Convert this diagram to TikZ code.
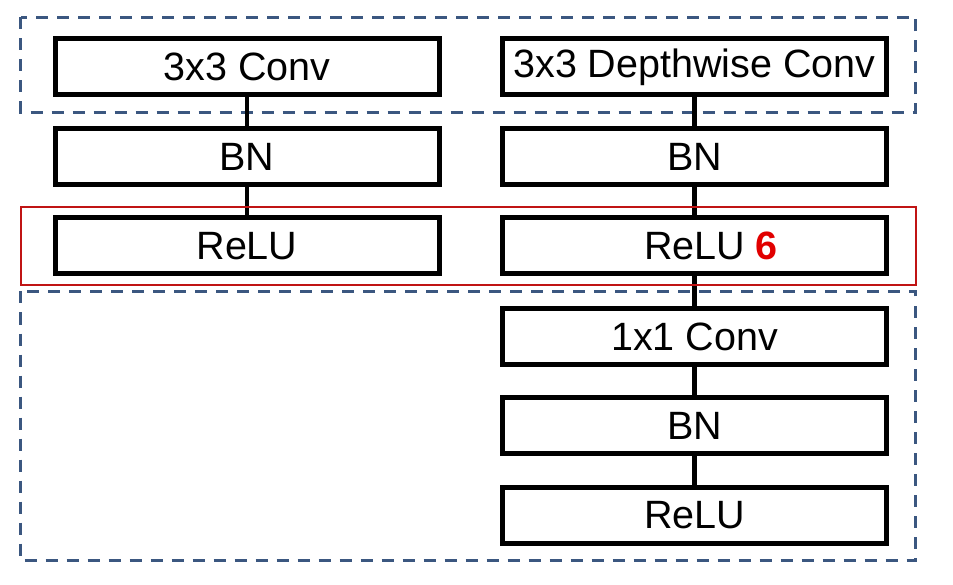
\documentclass[tikz,border=0pt]{standalone}
\usepackage{fontspec}
\setmainfont{Liberation Sans}
\definecolor{dashblue}{RGB}{59,87,128}
\definecolor{boxred}{RGB}{192,20,20}
\definecolor{sixred}{RGB}{225,0,0}
\begin{document}
\begin{tikzpicture}[x=1pt,y=-1pt,
  layer/.style={draw,line width=5pt,minimum width=384pt,minimum height=56pt,inner sep=0pt,font=\fontsize{39.5}{41}\selectfont},
  link/.style={line width=4.5pt},
  group/.style={draw=dashblue,line width=3pt,dash pattern=on 12pt off 9pt}]

\useasboundingbox (0,0) rectangle (953,585);

\node[layer] (conv) at (247,67) {3x3 Conv};
\node[layer] (bn) at (247,157) {BN};
\node[layer] (relu) at (247,246) {ReLU};

\node[layer] (dwconv) at (694.5,67) {3x3 Depthwise Conv};
\node[layer] (dwbn) at (694.5,157) {BN};
\node[layer] (relu6) at (694.5,246) {ReLU\rlap{ \textcolor{sixred}{\textbf{6}}}};
\node[layer] (pwconv) at (694.5,336.5) {1x1 Conv};
\node[layer] (pwbn) at (694.5,425.5) {BN};
\node[layer] (pwrelu) at (694.5,515) {ReLU};

\draw[group] ([xshift=-32pt,yshift=19pt]conv.north west) rectangle ([xshift=26.5pt,yshift=-15pt]dwconv.south east);
\draw[group] ([xshift=-32pt,yshift=-15pt]relu.south west) rectangle ([xshift=26.5pt,yshift=-15pt]pwrelu.south east);

\draw[link] (conv) -- (bn);
\draw[link] (bn) -- (relu);

\draw[link] (dwconv) -- (dwbn);
\draw[link] (dwbn) -- (relu6);
\draw[link] (relu6) -- (pwconv);
\draw[link] (pwconv) -- (pwbn);
\draw[link] (pwbn) -- (pwrelu);

\draw[boxred,line width=2pt] ([xshift=-32pt,yshift=8pt]relu.north west) rectangle ([xshift=26.5pt,yshift=-9pt]relu6.south east);

\end{tikzpicture}
\end{document}
